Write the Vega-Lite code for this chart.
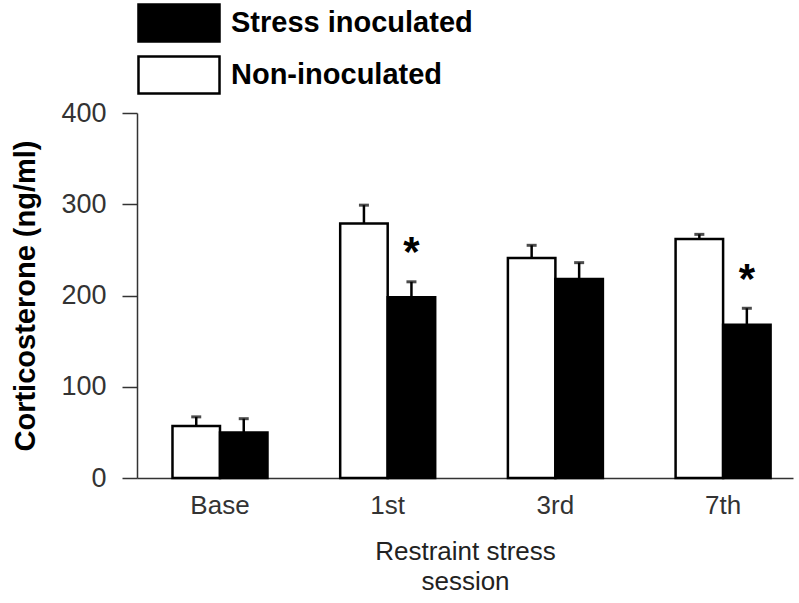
{
  "$schema": "https://vega.github.io/schema/vega-lite/v6.json",
  "width": 656,
  "height": 365,
  "autosize": {"type": "none"},
  "padding": {"left": 137, "top": 113, "right": 6, "bottom": 125},
  "background": "white",
  "config": {
    "font": "Liberation Sans",
    "view": {"stroke": null},
    "axis": {"grid": false}
  },
  "datasets": {
    "bars": [
      {"session": "Base", "group": "Non-inoculated", "value": 57, "upper": 67},
      {"session": "Base", "group": "Stress inoculated", "value": 50, "upper": 65},
      {"session": "1st", "group": "Non-inoculated", "value": 279, "upper": 299},
      {"session": "1st", "group": "Stress inoculated", "value": 198, "upper": 215},
      {"session": "3rd", "group": "Non-inoculated", "value": 241, "upper": 255},
      {"session": "3rd", "group": "Stress inoculated", "value": 218, "upper": 236},
      {"session": "7th", "group": "Non-inoculated", "value": 262, "upper": 267},
      {"session": "7th", "group": "Stress inoculated", "value": 168, "upper": 186}
    ],
    "stars": [
      {"session": "1st", "group": "Stress inoculated", "pos": 232, "label": "*"},
      {"session": "7th", "group": "Stress inoculated", "pos": 203, "label": "*"}
    ]
  },
  "encoding": {
    "x": {
      "field": "session",
      "type": "nominal",
      "sort": ["Base", "1st", "3rd", "7th"],
      "scale": {"paddingInner": 0.4335, "paddingOuter": 0.1726, "align": 0.613},
      "axis": {
        "title": ["Restraint stress", "session"],
        "titleFontSize": 26,
        "titleFontWeight": "normal",
        "titleColor": "#222",
        "titlePadding": 20,
        "titleLineHeight": 30,
        "labelFontSize": 26,
        "labelColor": "#333",
        "labelAngle": 0,
        "labelPadding": 14,
        "ticks": false,
        "domainColor": "#333",
        "domainWidth": 1.5
      }
    },
    "xOffset": {
      "field": "group",
      "type": "nominal",
      "sort": ["Non-inoculated", "Stress inoculated"],
      "scale": {"paddingInner": 0, "paddingOuter": 0}
    }
  },
  "layer": [
    {
      "data": {"name": "bars"},
      "mark": {"type": "rule", "strokeWidth": 2.5, "color": "black"},
      "encoding": {
        "y": {"field": "value", "type": "quantitative"},
        "y2": {"field": "upper"}
      }
    },
    {
      "data": {"name": "bars"},
      "mark": {"type": "tick", "size": 10, "thickness": 3, "color": "black"},
      "encoding": {
        "y": {"field": "upper", "type": "quantitative"}
      }
    },
    {
      "data": {"name": "bars"},
      "mark": {"type": "bar", "stroke": "black", "strokeWidth": 2.5},
      "encoding": {
        "y": {
          "field": "value",
          "type": "quantitative",
          "scale": {"domain": [0, 400], "nice": false},
          "axis": {
            "title": "Corticosterone (ng/ml)",
            "titleFontSize": 29,
            "titleFontWeight": "bold",
            "titleColor": "black",
            "titlePadding": 20,
            "values": [0, 100, 200, 300, 400],
            "labelFontSize": 27,
            "labelColor": "#333",
            "labelPadding": 16,
            "tickSize": 15,
            "tickColor": "#333",
            "tickWidth": 1.5,
            "domainColor": "#333",
            "domainWidth": 1.5
          }
        },
        "fill": {
          "field": "group",
          "type": "nominal",
          "scale": {"domain": ["Stress inoculated", "Non-inoculated"], "range": ["#000000", "#ffffff"]},
          "legend": {
            "title": null,
            "orient": "none",
            "legendX": 22,
            "legendY": -110,
            "symbolType": "M-2.19,-1H2.19V1H-2.19Z",
            "symbolSize": 1369,
            "symbolStrokeColor": "black",
            "symbolStrokeWidth": 2.5,
            "labelFontSize": 29,
            "labelFontWeight": "bold",
            "labelColor": "black",
            "labelOffset": 32,
            "labelLimit": 400,
            "rowPadding": 4,
            "padding": 0
          }
        }
      }
    },
    {
      "data": {"name": "stars"},
      "mark": {"type": "text", "fontSize": 42, "fontWeight": "bold", "baseline": "alphabetic", "color": "black"},
      "encoding": {
        "y": {"field": "pos", "type": "quantitative"},
        "text": {"field": "label"}
      }
    }
  ]
}
